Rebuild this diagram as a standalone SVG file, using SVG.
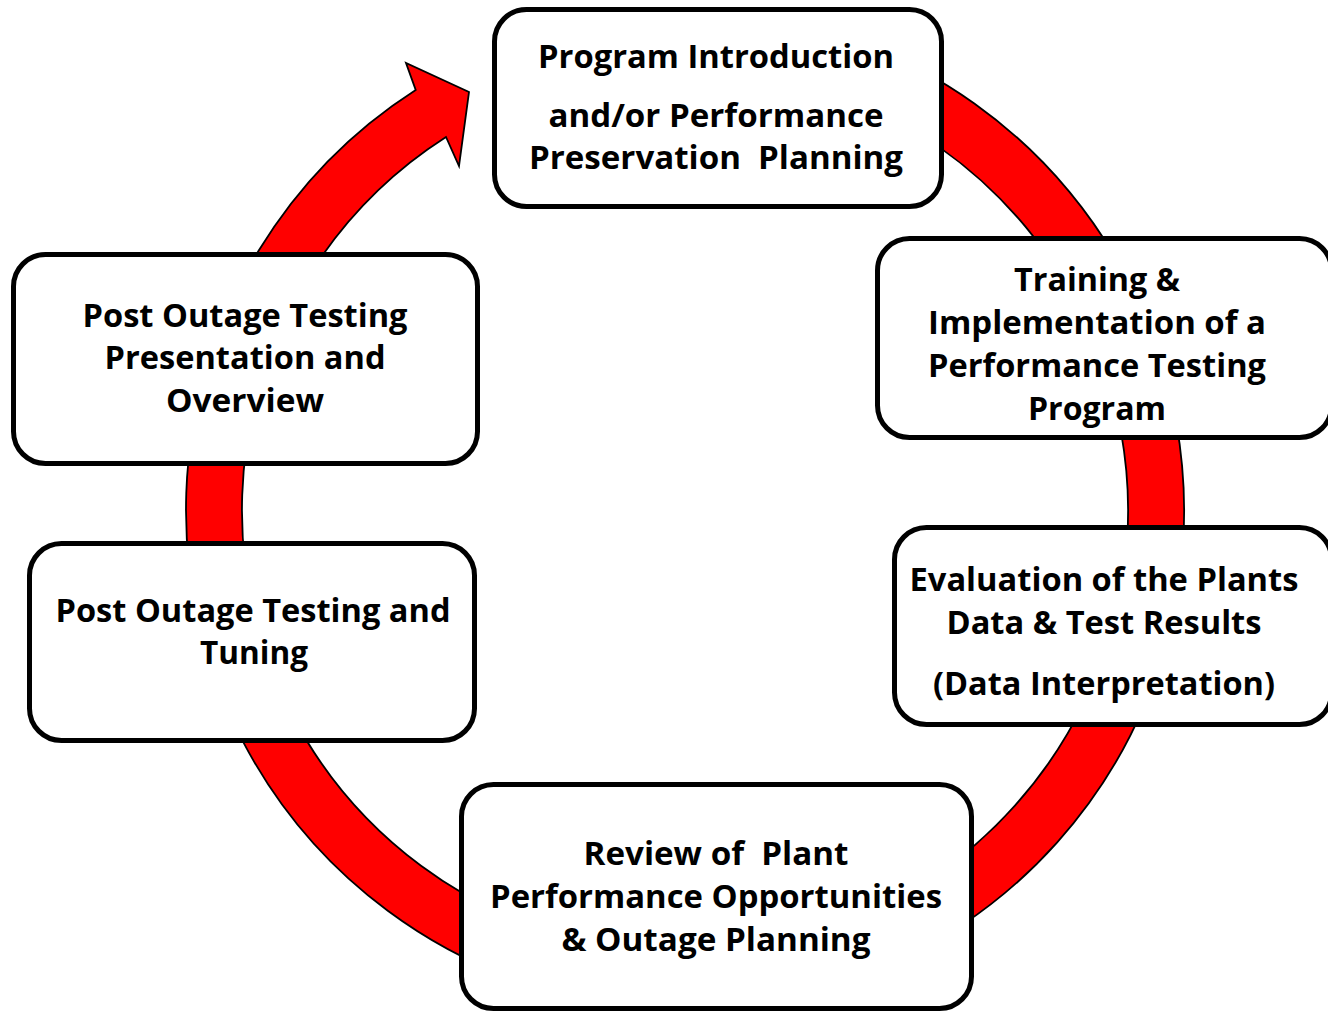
<svg xmlns="http://www.w3.org/2000/svg" width="1328" height="1012" viewBox="0 0 1328 1012">
<style>
.box{fill:#fff;stroke:#000;stroke-width:5}
.ring{fill:#ff0000;stroke:#000;stroke-width:1.8;stroke-linejoin:miter}
.t{font-family:"Open Sans","Liberation Sans",sans-serif;font-weight:bold;font-size:32px;fill:#000;text-anchor:middle}
</style>
<rect width="1328" height="1012" fill="#fff"/>
<g id="connectors">
<path class="ring" d="M 641.5 12.9 A 499 499 0 1 1 415.7 89.9 L 406 63 L 469 92 L 459 166 L 446 137 A 443 443 0 1 0 646.4 68.7 Z"/>
</g>
<g id="node-program-introduction">
<rect class="box" x="494.5" y="9.5" width="447" height="197" rx="32"/>
<text class="t" x="716" y="68" textLength="356" lengthAdjust="spacingAndGlyphs">Program Introduction</text>
<text class="t" x="716" y="127" textLength="335" lengthAdjust="spacingAndGlyphs">and/or Performance</text>
<text class="t" x="716" y="169" textLength="374" lengthAdjust="spacingAndGlyphs" xml:space="preserve">Preservation  Planning</text>
</g>
<g id="node-training">
<rect class="box" x="877.5" y="238.5" width="454" height="199" rx="32"/>
<text class="t" x="1097" y="291" textLength="166" lengthAdjust="spacingAndGlyphs">Training &amp;</text>
<text class="t" x="1097" y="334" textLength="338" lengthAdjust="spacingAndGlyphs">Implementation of a</text>
<text class="t" x="1097" y="377" textLength="338" lengthAdjust="spacingAndGlyphs">Performance Testing</text>
<text class="t" x="1097" y="420" textLength="138" lengthAdjust="spacingAndGlyphs">Program</text>
</g>
<g id="node-evaluation">
<rect class="box" x="894.5" y="527.5" width="437" height="197" rx="32"/>
<text class="t" x="1104" y="591" textLength="389" lengthAdjust="spacingAndGlyphs">Evaluation of the Plants</text>
<text class="t" x="1104" y="634" textLength="315" lengthAdjust="spacingAndGlyphs">Data &amp; Test Results</text>
<text class="t" x="1104" y="695" textLength="342" lengthAdjust="spacingAndGlyphs">(Data Interpretation)</text>
</g>
<g id="node-review">
<rect class="box" x="461.5" y="784.5" width="510" height="224" rx="32"/>
<text class="t" x="716" y="865" textLength="265" lengthAdjust="spacingAndGlyphs" xml:space="preserve">Review of  Plant</text>
<text class="t" x="716" y="908" textLength="452" lengthAdjust="spacingAndGlyphs">Performance Opportunities</text>
<text class="t" x="716" y="951" textLength="309" lengthAdjust="spacingAndGlyphs">&amp; Outage Planning</text>
</g>
<g id="node-post-outage-testing-tuning">
<rect class="box" x="29.5" y="543.5" width="445" height="197" rx="32"/>
<text class="t" x="253" y="622" textLength="395" lengthAdjust="spacingAndGlyphs">Post Outage Testing and</text>
<text class="t" x="254" y="664" textLength="108" lengthAdjust="spacingAndGlyphs">Tuning</text>
</g>
<g id="node-post-outage-presentation">
<rect class="box" x="13.5" y="254.5" width="464" height="209" rx="32"/>
<text class="t" x="245" y="327" textLength="325" lengthAdjust="spacingAndGlyphs">Post Outage Testing</text>
<text class="t" x="245" y="369" textLength="281" lengthAdjust="spacingAndGlyphs">Presentation and</text>
<text class="t" x="245" y="412" textLength="158" lengthAdjust="spacingAndGlyphs">Overview</text>
</g>
</svg>
